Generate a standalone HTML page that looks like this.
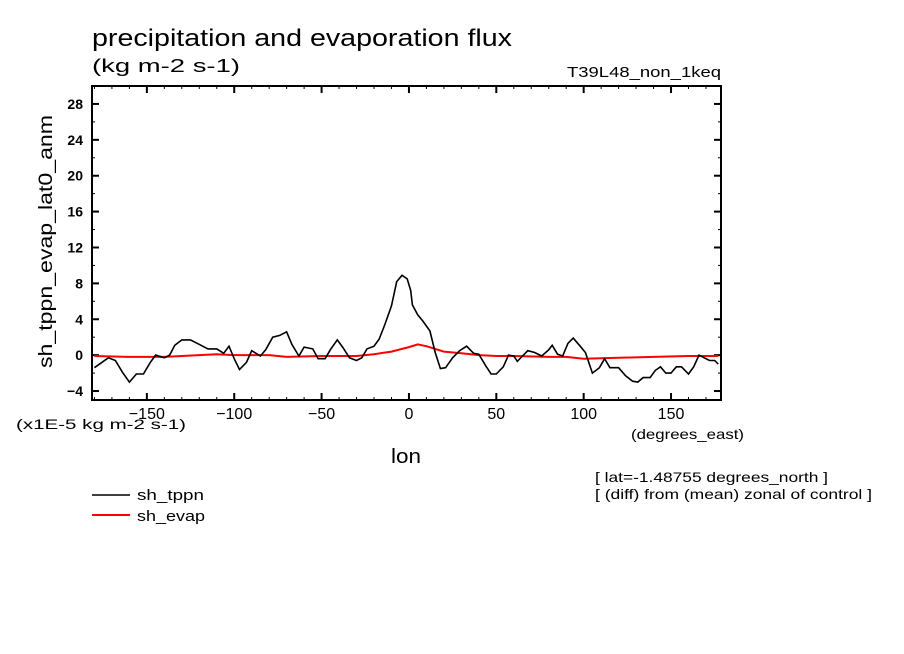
<!DOCTYPE html>
<html><head><meta charset="utf-8"><style>
html,body{margin:0;padding:0;background:#fff;}
svg{display:block;}
text{font-family:"Liberation Sans",sans-serif;fill:#000;}
</style></head><body>
<svg id="chart" width="904" height="654" viewBox="0 0 904 654" xmlns="http://www.w3.org/2000/svg">
<text x="92" y="46" font-size="24" textLength="420" lengthAdjust="spacingAndGlyphs">precipitation and evaporation flux</text>
<text x="92" y="72" font-size="18" textLength="148" lengthAdjust="spacingAndGlyphs">(kg m-2 s-1)</text>
<text x="567" y="77" font-size="15" textLength="154" lengthAdjust="spacingAndGlyphs">T39L48_non_1keq</text>
<text transform="translate(52,368) rotate(-90)" x="0" y="0" font-size="19" textLength="253" lengthAdjust="spacingAndGlyphs">sh_tppn_evap_lat0_anm</text>
<text x="16" y="429" font-size="14" textLength="170" lengthAdjust="spacingAndGlyphs">(x1E-5 kg m-2 s-1)</text>
<text x="631" y="439" font-size="14" textLength="113" lengthAdjust="spacingAndGlyphs">(degrees_east)</text>
<text x="391" y="463" font-size="20" textLength="30" lengthAdjust="spacingAndGlyphs">lon</text>
<text x="595" y="482" font-size="14" textLength="233" lengthAdjust="spacingAndGlyphs">[ lat=-1.48755 degrees_north ]</text>
<text x="595" y="499" font-size="14" textLength="277" lengthAdjust="spacingAndGlyphs">[ (diff) from (mean) zonal of control ]</text>
<line x1="92" y1="495" x2="130" y2="495" stroke="#000" stroke-width="1.6"/>
<text x="137" y="500" font-size="15" textLength="67" lengthAdjust="spacingAndGlyphs">sh_tppn</text>
<line x1="92" y1="515" x2="130" y2="515" stroke="#f00" stroke-width="2"/>
<text x="137" y="521" font-size="15" textLength="68" lengthAdjust="spacingAndGlyphs">sh_evap</text>
<g id="axes"></g>
<g id="series"></g>
</svg>
<script>
const tppnLon = [-180,-172,-168,-164,-160,-156,-152,-148,-145,-140,-137,-134,-130,-125,-120,-115,-110,-106,-103,-100,-97,-93,-90,-85,-82,-78,-74,-70,-67,-63,-60,-55,-52,-48,-45,-41,-38,-34,-30,-27,-24,-20,-17,-14,-10,-7,-4,-1,1,2,5,8,12,15,18,21,25,29,33,37,40,44,47,50,54,57,60,62,65,68,72,76,80,82,85,88,91,94,98,101,105,109,112,115,120,124,128,131,134,138,141,144,147,150,153,156,160,163,166,169,172,175,177];
const tppnVal = [-1.4,-0.3,-0.6,-1.9,-3.0,-2.1,-2.1,-0.8,0,-0.3,0,1.1,1.7,1.7,1.2,0.7,0.7,0.2,1.0,-0.4,-1.6,-0.8,0.5,-0.1,0.6,2.0,2.2,2.6,1.2,-0.1,0.9,0.7,-0.4,-0.4,0.6,1.7,0.9,-0.3,-0.6,-0.3,0.7,1.0,1.8,3.3,5.5,8.2,8.9,8.5,7.2,5.6,4.5,3.8,2.7,0.3,-1.5,-1.4,-0.3,0.5,1.0,0.2,0.1,-1.2,-2.1,-2.1,-1.3,0,-0.1,-0.7,-0.1,0.5,0.3,-0.1,0.6,1.1,0.1,-0.1,1.3,1.9,1.0,0.3,-2.0,-1.4,-0.4,-1.4,-1.4,-2.3,-2.9,-3.0,-2.5,-2.5,-1.7,-1.3,-2.0,-2.0,-1.3,-1.3,-2.1,-1.3,0,-0.3,-0.6,-0.6,-1.0];
const evapLon = [-180,-160,-140,-120,-110,-100,-80,-70,-50,-30,-20,-10,0,5,10,15,20,30,40,50,60,80,90,100,120,140,160,177];
const evapVal = [-0.1,-0.2,-0.2,0,0.1,0,0,-0.2,-0.1,-0.1,0.1,0.4,0.9,1.2,1.0,0.7,0.4,0.2,0,-0.1,-0.1,-0.2,-0.2,-0.4,-0.3,-0.2,-0.1,-0.1];
const yTicks = [-4,0,4,8,12,16,20,24,28];
const xTicks = [-150,-100,-50,0,50,100,150];
const xTickLabels = ["\u2212150","\u2212100","\u221250","0","50","100","150"];

const X0=92,X1=721,Y0=86,Y1=400,LON0=-181.4,LON1=178.6,V0=-5,V1=30;
const sx=v=>X0+(v-LON0)/(LON1-LON0)*(X1-X0);
const sy=v=>Y1-(v-V0)/(V1-V0)*(Y1-Y0);
const NS='http://www.w3.org/2000/svg';
const axes=document.getElementById('axes'), series=document.getElementById('series');
function mk(tag,attrs,parent){const e=document.createElementNS(NS,tag);for(const k in attrs)e.setAttribute(k,attrs[k]);parent.appendChild(e);return e;}

const frame=mk('rect',{x:X0,y:Y0,width:X1-X0,height:Y1-Y0,fill:'none',stroke:'#000','stroke-width':2},axes);



for(let v=-180;v<=170;v+=10){
  const maj=(v%50===0), L=maj?7:3, x=sx(v);
  const t1=mk('line',{x1:x,y1:Y1,x2:x,y2:Y1-L,stroke:'#000','stroke-width':maj?2:1},axes);
  
  
  const t2=mk('line',{x1:x,y1:Y0,x2:x,y2:Y0+L,stroke:'#000','stroke-width':maj?2:1},axes);
  
  
}
for(let v=-4;v<=28;v+=2){
  const maj=(v%4===0), L=maj?7:3, y=sy(v);
  const t1=mk('line',{x1:X0,y1:y,x2:X0+L,y2:y,stroke:'#000','stroke-width':maj?2:1},axes);
  
  
  const t2=mk('line',{x1:X1,y1:y,x2:X1-L,y2:y,stroke:'#000','stroke-width':maj?2:1},axes);
  
  
}
yTicks.forEach(v=>{
  const t=mk('text',{x:83,y:sy(v)+5,'font-size':14,'font-weight':'bold','text-anchor':'end'},axes);
  t.textContent=(v<0?'\u2212'+Math.abs(v):String(v));
  
  
});
xTicks.forEach((v,i)=>{
  const t=mk('text',{x:sx(v),y:419,'font-size':16,'text-anchor':'middle'},axes);
  t.textContent=xTickLabels[i];
  
  
});
function path(lons,vals){return lons.map((l,i)=>(i?'L':'M')+sx(l).toFixed(1)+','+sy(vals[i]).toFixed(1)).join(' ');}
const pe=mk('path',{d:path(evapLon,evapVal),fill:'none',stroke:'#f00','stroke-width':2},series);


const pt=mk('path',{d:path(tppnLon,tppnVal),fill:'none',stroke:'#000','stroke-width':1.6},series);


</script>
</body></html>
